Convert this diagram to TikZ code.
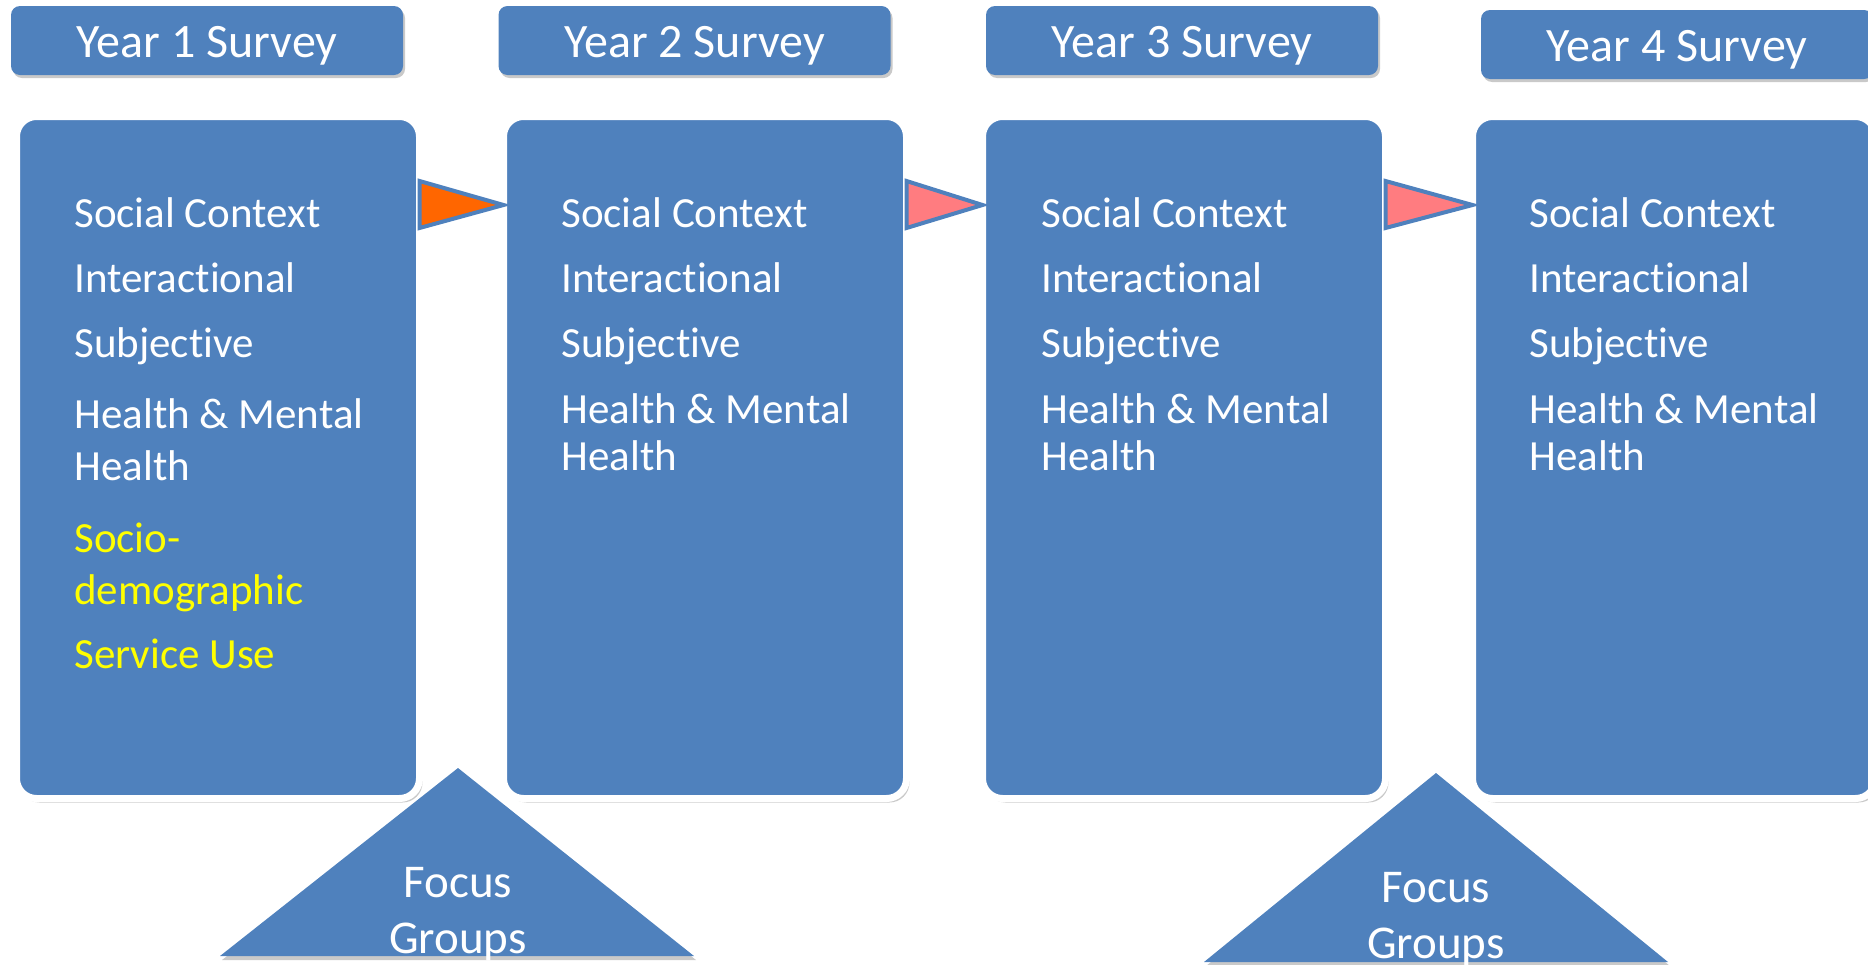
\documentclass[tikz,border=0pt]{standalone}
\usepackage{fontspec}
\setmainfont{Carlito}[Ligatures=NoCommon]
\usetikzlibrary{shadows}
\definecolor{surveyblue}{RGB}{79,129,189}
\definecolor{flagorange}{RGB}{255,102,0}
\definecolor{flagpink}{RGB}{255,124,128}
\definecolor{newyellow}{RGB}{255,255,0}

\begin{document}
\begin{tikzpicture}[x=0.5pt, y=-0.5pt,
  year_node/.style={rectangle, rounded corners=4.5pt, fill=surveyblue, text=white, inner sep=0pt,
    minimum width=196pt, minimum height=34.5pt, text height=16.5pt, text depth=0pt,
    font=\fontsize{24pt}{28pt}\selectfont,
    drop shadow={shadow xshift=1pt, shadow yshift=-1.5pt, opacity=0.3, fill=black!70}},
  wave_node/.style={rectangle, rounded corners=10pt, fill=surveyblue, draw=white, line width=3.5pt,
    minimum width=201.5pt, minimum height=341pt, outer sep=0pt,
    drop shadow={shadow xshift=1.5pt, shadow yshift=-2pt, opacity=0.3, fill=black!70}},
  list_node/.style={anchor=north west, align=left, inner sep=0pt, text=white},
  flag/.style={draw=surveyblue, line width=2pt},
  focus_tri/.style={fill=surveyblue, drop shadow={shadow xshift=1pt, shadow yshift=-2pt, opacity=0.3, fill=black!70}},
  focus_node/.style={anchor=north, align=center, inner sep=0pt, text=white, font=\fontsize{23.5pt}{28pt}\selectfont}]
\useasboundingbox (0,0) rectangle (1868,964);

% survey headers
\node[year_node] (y1) at (207, 40.5) {Year 1 Survey};
\node[year_node] (y2) at (694.5, 40.5) {Year 2 Survey};
\node[year_node] (y3) at (1182, 40.5) {Year 3 Survey};
\node[year_node] (y4) at (1677, 44.5) {Year 4 Survey};

% survey waves
\node[wave_node] (w1) at (218, 457.5) {};
\node[wave_node] (w2) at (705, 457.5) {};
\node[wave_node] (w3) at (1184, 457.5) {};
\node[wave_node] (w4) at (1674, 457.5) {};

\node[list_node, font=\fontsize{21.5pt}{26pt}\selectfont] (l1) at (74, 197) {Social Context\\[6.5pt]
  Interactional\\[6.5pt] Subjective\\[9.5pt] Health \& Mental\\ Health\\[10pt]
  \textcolor{newyellow}{Socio-}\\ \textcolor{newyellow}{demographic}\\[6pt]
  \textcolor{newyellow}{Service Use}};
\node[list_node, font=\fontsize{21.5pt}{23.5pt}\selectfont] (l2) at (561, 197) {Social Context\\[9pt]
  Interactional\\[9pt] Subjective\\[9.5pt] Health \& Mental\\ Health};
\node[list_node, font=\fontsize{21.5pt}{23.5pt}\selectfont] (l3) at (1041, 197) {Social Context\\[9pt]
  Interactional\\[9pt] Subjective\\[9.5pt] Health \& Mental\\ Health};
\node[list_node, font=\fontsize{21.5pt}{23.5pt}\selectfont] (l4) at (1529, 197) {Social Context\\[9pt]
  Interactional\\[9pt] Subjective\\[9.5pt] Health \& Mental\\ Health};

% arrows between waves
\draw[flag, fill=flagorange] ([yshift=-32.25pt]w1.north east) -- ([yshift=-55.75pt]w1.north east)
  -- ([yshift=-44.25pt]w2.north west) -- cycle;
\draw[flag, fill=flagpink] ([yshift=-32.25pt]w2.north east) -- ([yshift=-55.75pt]w2.north east)
  -- ([yshift=-44.25pt]w3.north west) -- cycle;
\draw[flag, fill=flagpink] ([yshift=-32.25pt]w3.north east) -- ([yshift=-55.75pt]w3.north east)
  -- ([yshift=-44.25pt]w4.north west) -- cycle;

% focus groups
\coordinate (f1top) at (458, 768);
\coordinate (f1left) at (220, 956);
\coordinate (f1right) at (694, 956);
\coordinate (f2top) at (1436, 773);
\coordinate (f2left) at (1204, 962);
\coordinate (f2right) at (1668, 962);
\path[focus_tri] (f1top) -- (f1right) -- (f1left) -- cycle;
\path[focus_tri] (f2top) -- (f2right) -- (f2left) -- cycle;
\node[focus_node] (fg1) at (458, 867) {Focus\\Groups};
\node[focus_node] (fg2) at (1436, 872) {Focus\\Groups};

\end{tikzpicture}
\end{document}
